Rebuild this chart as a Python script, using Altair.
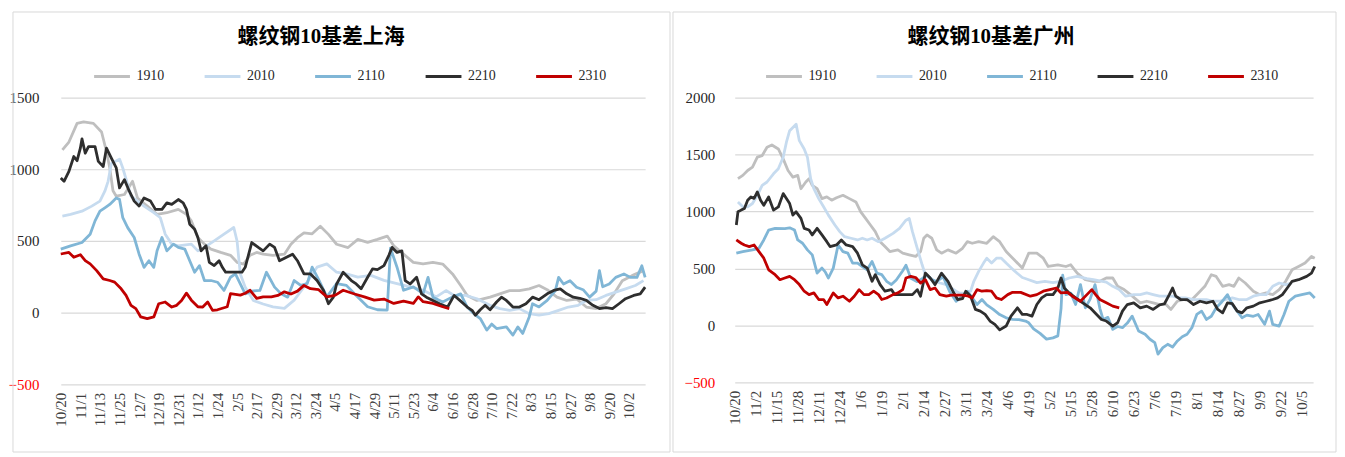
import altair as alt
import pandas as pd

SERIES = ["1910", "2010", "2110", "2210", "2310"]
COLORS = ["#bfbfbf", "#c6dbef", "#80b6d6", "#2e2e2e", "#c00000"]
START = "2019-10-20"
END = "2020-10-12"
SH_TITLE = "螺纹钢10基差上海"
GZ_TITLE = "螺纹钢10基差广州"
SH_YTICKS = [-500, 0, 500, 1000, 1500]
GZ_YTICKS = [-500, 0, 500, 1000, 1500, 2000]
SH_XSTEP, SH_XCOUNT = 12, 30
GZ_XSTEP, GZ_XCOUNT = 13, 28

# ---- Shanghai (days after 10/20, value) ----
SH_1910_D = [1, 5, 10, 14, 20, 25, 28, 30, 32, 34, 39, 44, 47, 53, 59, 65, 72, 77, 80, 84, 88, 92, 98, 104, 108, 112, 116, 120, 124, 130, 137, 141, 145, 149, 154, 159, 164, 169, 176, 182, 188, 194, 200, 204, 210, 216, 222, 228, 234, 240, 245, 249, 255, 263, 269, 275, 281, 287, 293, 298, 304, 310, 316, 322, 328, 334, 339, 344, 350, 357]
SH_1910_V = [1135, 1190, 1320, 1330, 1320, 1260, 1124, 1010, 850, 812, 824, 916, 800, 743, 685, 697, 720, 685, 640, 524, 478, 443, 420, 400, 351, 339, 400, 420, 408, 400, 408, 477, 523, 557, 550, 603, 546, 477, 454, 511, 490, 511, 534, 466, 408, 351, 340, 350, 339, 270, 189, 120, 85, 108, 131, 154, 154, 166, 189, 160, 108, 85, 95, 39, 28, 62, 131, 223, 258, 293]
SH_2010_D = [1, 6, 13, 19, 24, 27, 29, 31, 36, 38, 41, 43, 47, 51, 57, 61, 64, 68, 72, 80, 84, 88, 94, 100, 106, 108, 110, 113, 118, 124, 130, 137, 143, 149, 153, 157, 163, 169, 175, 182, 190, 198, 206, 214, 222, 230, 236, 241, 248, 255, 263, 269, 275, 281, 287, 293, 299, 305, 311, 317, 322, 328, 334, 340, 346, 352, 357]
SH_2010_V = [674, 685, 708, 743, 778, 847, 916, 1040, 1071, 1009, 893, 812, 778, 743, 697, 662, 547, 478, 466, 478, 431, 455, 500, 547, 594, 500, 270, 178, 85, 60, 40, 30, 87, 179, 248, 317, 340, 282, 270, 248, 260, 225, 202, 179, 156, 110, 154, 120, 120, 97, 51, 28, 16, 28, -7, -18, -7, 16, 39, 51, 85, 90, 120, 143, 166, 189, 223]
SH_2110_D = [0, 6, 13, 18, 21, 24, 27, 30, 34, 36, 38, 41, 45, 48, 51, 54, 57, 59, 62, 65, 69, 72, 76, 79, 82, 85, 88, 92, 96, 100, 104, 107, 110, 113, 117, 122, 126, 131, 135, 139, 143, 147, 151, 154, 158, 163, 169, 175, 181, 188, 194, 200, 202, 206, 210, 216, 222, 225, 228, 234, 240, 245, 249, 253, 257, 261, 264, 267, 273, 277, 280, 283, 287, 289, 293, 298, 303, 305, 308, 312, 316, 320, 324, 328, 330, 332, 336, 340, 345, 349, 353, 356, 358]
SH_2110_V = [443, 466, 489, 547, 640, 708, 731, 755, 800, 790, 662, 593, 524, 408, 316, 362, 316, 431, 524, 431, 478, 455, 443, 362, 282, 328, 224, 224, 212, 155, 247, 270, 200, 131, 150, 155, 282, 178, 131, 108, 224, 190, 202, 317, 230, 110, 202, 190, 120, 41, 20, 18, 450, 317, 156, 180, 133, 246, 108, 74, 110, 131, 39, -7, -41, -122, -80, -111, -99, -157, -100, -145, -30, 62, 40, 85, 154, 246, 200, 223, 177, 160, 108, 150, 293, 180, 200, 246, 270, 246, 246, 327, 246]
SH_2210_D = [0, 2, 5, 8, 10, 12, 13, 15, 17, 21, 23, 26, 28, 31, 34, 36, 39, 42, 45, 48, 51, 55, 58, 62, 65, 68, 72, 75, 77, 79, 82, 84, 86, 89, 91, 94, 97, 99, 101, 106, 111, 113, 117, 121, 124, 128, 131, 134, 138, 142, 145, 149, 153, 157, 161, 164, 167, 169, 173, 178, 181, 184, 188, 191, 194, 198, 201, 203, 206, 209, 211, 214, 218, 221, 224, 228, 232, 237, 241, 245, 249, 252, 254, 257, 260, 263, 267, 270, 273, 277, 281, 285, 289, 293, 298, 302, 306, 310, 314, 318, 322, 326, 330, 334, 338, 342, 346, 351, 355, 358]
SH_2210_V = [939, 916, 985, 1089, 1060, 1147, 1212, 1112, 1158, 1158, 1055, 1020, 1147, 1078, 1009, 870, 928, 847, 778, 743, 800, 778, 720, 720, 766, 755, 789, 766, 720, 616, 582, 524, 431, 466, 351, 328, 362, 316, 282, 282, 282, 316, 489, 455, 431, 478, 455, 362, 385, 408, 362, 270, 270, 224, 155, 62, 108, 200, 282, 224, 200, 166, 247, 305, 300, 328, 400, 455, 420, 431, 224, 200, 247, 131, 108, 85, 62, 39, 120, 80, 39, 16, -18, 20, 51, 20, 74, 108, 85, 39, 39, 62, 108, 90, 131, 155, 166, 131, 108, 100, 85, 51, 28, 35, 28, 62, 97, 120, 131, 178]
SH_2310_D = [0, 5, 8, 12, 15, 18, 22, 26, 30, 33, 37, 40, 43, 46, 49, 53, 57, 60, 64, 68, 71, 74, 77, 80, 84, 87, 90, 93, 96, 102, 104, 110, 113, 116, 120, 124, 129, 133, 137, 141, 145, 149, 153, 158, 163, 168, 173, 180, 186, 192, 198, 204, 210, 216, 219, 222, 228, 234, 238]
SH_2310_V = [409, 420, 386, 404, 363, 340, 293, 236, 224, 213, 166, 120, 51, 28, -30, -42, -30, 62, 74, 39, 51, 85, 136, 87, 41, 39, 74, 16, 20, 41, 133, 122, 135, 156, 99, 110, 110, 120, 145, 130, 150, 190, 167, 160, 110, 120, 156, 130, 110, 87, 95, 64, 80, 64, 110, 76, 64, 41, 28]

# ---- Guangzhou (days after 10/20, value) ----
GZ_1910_D = [2, 5, 8, 11, 14, 17, 20, 23, 27, 30, 33, 36, 39, 41, 44, 46, 48, 51, 54, 57, 60, 63, 67, 71, 75, 78, 81, 84, 87, 90, 93, 96, 101, 104, 108, 112, 115, 117, 119, 122, 125, 128, 132, 137, 141, 144, 147, 151, 156, 160, 164, 168, 173, 178, 182, 187, 191, 194, 200, 205, 208, 212, 217, 222, 226, 230, 234, 237, 241, 245, 251, 255, 259, 263, 267, 270, 274, 278, 282, 287, 291, 295, 298, 302, 306, 309, 312, 316, 321, 325, 329, 333, 337, 341, 345, 349, 353, 357, 359]
GZ_1910_V = [1288, 1317, 1360, 1390, 1477, 1491, 1564, 1584, 1549, 1462, 1360, 1302, 1317, 1200, 1259, 1288, 1230, 1200, 1113, 1128, 1099, 1120, 1142, 1113, 1084, 997, 939, 881, 823, 735, 692, 648, 663, 634, 619, 605, 648, 765, 794, 765, 663, 634, 663, 634, 677, 735, 721, 735, 721, 779, 735, 648, 576, 503, 634, 634, 590, 517, 532, 517, 532, 459, 401, 387, 387, 416, 416, 343, 314, 270, 198, 212, 198, 183, 183, 140, 212, 227, 212, 285, 343, 445, 430, 343, 358, 343, 416, 372, 300, 270, 285, 270, 314, 387, 488, 517, 547, 605, 590]
GZ_2010_D = [2, 5, 8, 11, 14, 17, 20, 24, 27, 30, 32, 34, 36, 38, 40, 43, 45, 47, 49, 52, 55, 58, 62, 65, 68, 72, 76, 79, 82, 85, 89, 93, 98, 102, 106, 108, 110, 113, 116, 118, 121, 124, 127, 131, 134, 137, 139, 142, 146, 148, 151, 154, 156, 159, 162, 165, 168, 173, 178, 182, 187, 192, 197, 202, 207, 212, 218, 222, 226, 230, 234, 238, 242, 247, 251, 255, 259, 263, 267, 271, 275, 279, 284, 288, 292, 296, 300, 304, 308, 312, 317, 321, 325, 329, 333, 337, 341, 345]
GZ_2010_V = [1084, 1041, 1041, 1070, 1142, 1230, 1259, 1331, 1375, 1477, 1608, 1709, 1738, 1767, 1622, 1549, 1477, 1288, 1200, 1113, 1041, 968, 881, 823, 779, 765, 750, 765, 750, 765, 735, 765, 808, 852, 924, 939, 823, 677, 532, 445, 416, 387, 372, 358, 328, 300, 285, 283, 300, 387, 474, 547, 590, 547, 590, 590, 547, 480, 420, 401, 375, 387, 375, 387, 416, 430, 410, 401, 390, 380, 343, 314, 256, 270, 270, 285, 270, 256, 256, 256, 241, 241, 227, 227, 227, 212, 212, 227, 241, 227, 227, 256, 270, 270, 343, 372, 358, 372]
GZ_2110_D = [1, 5, 11, 15, 18, 21, 25, 31, 34, 37, 39, 42, 45, 48, 51, 54, 56, 58, 61, 64, 67, 70, 73, 76, 79, 82, 85, 88, 91, 94, 97, 100, 104, 106, 109, 113, 116, 119, 122, 125, 129, 133, 137, 141, 144, 147, 150, 153, 156, 160, 164, 168, 172, 176, 180, 182, 185, 189, 193, 197, 200, 202, 203, 205, 208, 211, 214, 217, 220, 223, 226, 228, 231, 234, 237, 240, 243, 246, 250, 254, 257, 260, 262, 265, 268, 271, 274, 277, 280, 283, 286, 289, 292, 295, 298, 301, 305, 308, 311, 314, 317, 321, 324, 328, 331, 333, 337, 340, 343, 347, 351, 356, 359]
GZ_2110_V = [634, 648, 663, 677, 750, 837, 852, 850, 857, 837, 750, 721, 663, 619, 459, 503, 470, 416, 503, 706, 648, 634, 547, 547, 517, 488, 561, 459, 445, 387, 358, 399, 480, 529, 413, 384, 410, 442, 400, 384, 428, 298, 211, 256, 300, 241, 183, 227, 180, 140, 95, 66, 52, 50, 38, 23, -30, -70, -121, -110, -92, 150, 440, 270, 283, 183, 358, 154, 230, 358, 150, 52, 70, -35, -10, -20, 20, 81, -49, -78, -122, -151, -253, -195, -166, -190, -137, -100, -78, -20, 96, 125, 52, 80, 154, 198, 270, 183, 125, 67, 90, 80, 96, 9, 125, 9, -6, 96, 212, 256, 270, 285, 241]
GZ_2210_D = [1, 2, 4, 6, 8, 10, 12, 14, 16, 18, 21, 24, 27, 30, 32, 34, 36, 38, 41, 43, 46, 48, 51, 54, 57, 59, 63, 66, 69, 73, 76, 79, 82, 85, 87, 90, 93, 97, 99, 106, 110, 113, 115, 118, 121, 124, 128, 132, 135, 138, 141, 143, 146, 149, 152, 155, 158, 161, 164, 168, 171, 175, 178, 181, 184, 187, 190, 193, 197, 200, 202, 204, 207, 211, 214, 217, 220, 224, 227, 230, 234, 237, 240, 243, 247, 251, 255, 259, 263, 266, 269, 271, 273, 276, 280, 284, 288, 292, 296, 299, 302, 305, 308, 311, 314, 317, 321, 325, 329, 333, 336, 339, 342, 345, 349, 354, 357, 359]
GZ_2210_V = [881, 997, 1012, 1026, 1099, 1128, 1115, 1172, 1099, 1055, 1128, 1012, 1040, 1157, 1113, 1070, 968, 997, 939, 852, 837, 794, 852, 794, 735, 692, 706, 750, 706, 692, 634, 532, 503, 387, 445, 358, 300, 314, 270, 270, 270, 314, 256, 459, 416, 358, 459, 387, 300, 227, 235, 300, 256, 140, 125, 96, 38, 9, -40, -6, 81, 154, 96, 96, 81, 183, 241, 270, 270, 328, 416, 328, 285, 241, 212, 183, 154, 96, 52, 38, -6, 23, 125, 183, 198, 154, 169, 140, 180, 190, 270, 328, 256, 227, 227, 183, 212, 198, 212, 140, 110, 198, 190, 125, 110, 154, 169, 198, 212, 227, 241, 270, 328, 387, 401, 430, 459, 517]
GZ_2310_D = [1, 4, 6, 9, 12, 15, 18, 21, 25, 28, 31, 34, 37, 40, 43, 46, 49, 52, 55, 57, 61, 64, 67, 71, 74, 77, 80, 83, 86, 89, 91, 94, 98, 101, 104, 106, 109, 112, 115, 118, 121, 124, 127, 131, 134, 137, 141, 144, 147, 150, 153, 156, 159, 162, 165, 169, 172, 177, 183, 187, 191, 195, 199, 202, 206, 209, 214, 218, 221, 224, 226, 230, 234, 238]
GZ_2310_V = [750, 721, 706, 692, 706, 648, 590, 488, 445, 401, 416, 430, 401, 358, 300, 270, 285, 227, 227, 183, 285, 241, 256, 212, 256, 314, 270, 270, 300, 270, 227, 240, 270, 285, 314, 416, 430, 420, 372, 401, 314, 328, 270, 256, 265, 265, 265, 260, 241, 314, 300, 305, 300, 241, 227, 270, 290, 290, 256, 270, 300, 314, 328, 285, 290, 256, 212, 270, 314, 260, 227, 198, 169, 154]

SERIF = "Liberation Serif"
TITLE_FONT = "Liberation Serif, Noto Sans CJK SC"
BASE = pd.Timestamp(START)


def ms(ts):
    return int(pd.Timestamp(ts).value // 10**6)


def build(series_lists):
    rows = []
    for name, (days, vals) in zip(SERIES, series_lists):
        for d, v in zip(days, vals):
            rows.append({"t": ms(BASE + pd.Timedelta(days=d)), "v": v, "s": name})
    return pd.DataFrame(rows)


sh_df = build([(SH_1910_D, SH_1910_V), (SH_2010_D, SH_2010_V), (SH_2110_D, SH_2110_V),
               (SH_2210_D, SH_2210_V), (SH_2310_D, SH_2310_V)])
gz_df = build([(GZ_1910_D, GZ_1910_V), (GZ_2010_D, GZ_2010_V), (GZ_2110_D, GZ_2110_V),
               (GZ_2210_D, GZ_2210_V), (GZ_2310_D, GZ_2310_V)])

sh_ticks = [ms(BASE + pd.Timedelta(days=SH_XSTEP * k)) for k in range(SH_XCOUNT)]
gz_ticks = [ms(BASE + pd.Timedelta(days=GZ_XSTEP * k)) for k in range(GZ_XCOUNT)]


def panel(df, title, width, height, yticks, xticks, frame, legend_x, title_dx, ypad):
    x = alt.X("t:T",
              scale=alt.Scale(type="utc", domain=[ms(START), ms(END)]),
              axis=alt.Axis(values=xticks,
                            labelExpr="utcFormat(datum.value, '%-m/%-d')",
                            labelAngle=270, labelFont=SERIF, labelFontSize=15,
                            labelColor="#404040", labelPadding=8,
                            labelOverlap=False, labelBound=False,
                            grid=False, domain=False, ticks=False, title=None))
    y = alt.Y("v:Q",
              scale=alt.Scale(domain=[yticks[0], yticks[-1]], nice=False, zero=False),
              axis=alt.Axis(values=yticks, format="d", grid=True, gridColor="#d9d9d9",
                            gridWidth=1.2, domain=False, ticks=False, labelPadding=ypad,
                            labelFont=SERIF, labelFontSize=15,
                            labelColor={"expr": "datum.value < 0 ? '#ff0000' : '#262626'"},
                            title=None))
    color = alt.Color("s:N",
                      scale=alt.Scale(domain=SERIES, range=COLORS),
                      legend=alt.Legend(orient="none", legendX=legend_x, legendY=-41,
                                        direction="horizontal", columns=5, title=None,
                                        symbolType="stroke", symbolStrokeWidth=3,
                                        symbolSize=1296, labelFont=SERIF,
                                        labelFontSize=14, labelColor="#262626",
                                        columnPadding=34, labelOffset=5))
    lines = alt.Chart(df).mark_line(strokeWidth=2.8, strokeJoin="round").encode(
        x=x, y=y, color=color)
    box = alt.Chart(alt.Data(values=[{"k": 1}])).mark_rect(
        fill="white", fillOpacity=0, stroke="#d9d9d9", strokeWidth=1).encode(
        x=alt.value(frame[0]), x2=alt.value(frame[1]),
        y=alt.value(frame[2]), y2=alt.value(frame[3]))
    return alt.layer(box, lines).properties(
        width=width, height=height,
        title=alt.Title(title, font=TITLE_FONT, fontSize=21, fontWeight="bold",
                        color="#000000", anchor="middle", offset=-36, dx=title_dx))


left = panel(sh_df, SH_TITLE, 587, 288, SH_YTICKS, sh_ticks, (-48, 612, -86, 356), 32, -32, 22)
right = panel(gz_df, GZ_TITLE, 581, 286, GZ_YTICKS, gz_ticks, (-62, 604, -86, 356), 30, -33, 20)

chart = alt.hconcat(left, right, spacing=1).resolve_scale(
    color="independent").resolve_legend(color="independent").configure_view(
    strokeWidth=0).properties(padding={"left": 0, "top": 2, "right": 0, "bottom": 0})

chart.save("out.html", embed_options={"renderer": "svg", "actions": False})
